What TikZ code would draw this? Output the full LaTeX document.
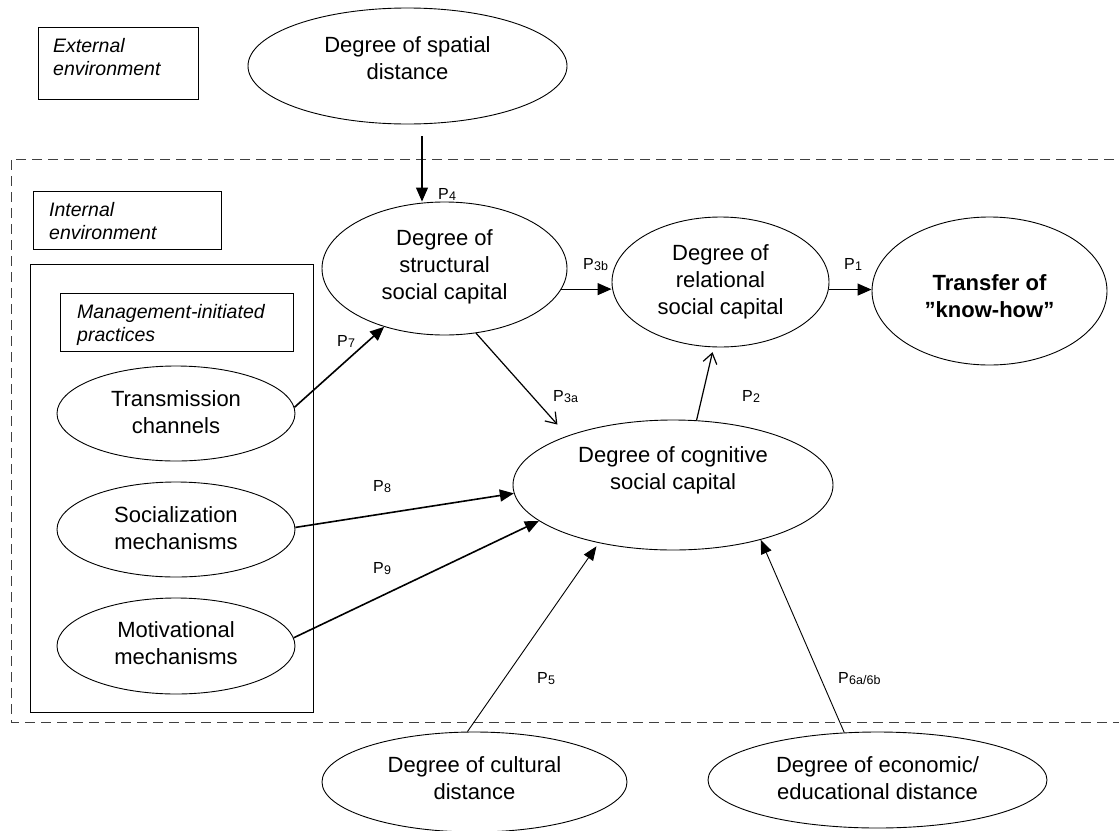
\documentclass[tikz,border=0pt]{standalone}
\usepackage{fontspec}
\setmainfont{Liberation Sans}
\usetikzlibrary{arrows.meta,shapes.geometric}
\newcommand\psub[1]{\kern0.3pt\raisebox{-1.8pt}{\fontsize{12.5}{12.5}\selectfont #1}}
\begin{document}
\begin{tikzpicture}[x=1pt,y=-1pt,
  ell/.style={draw, ellipse, inner sep=0pt, line width=0.9pt},
  etxt/.style={align=center, inner sep=0pt, font=\fontsize{22}{27}\selectfont},
  btxt/.style={etxt, font=\fontsize{22}{27}\selectfont\bfseries},
  box/.style={draw, rectangle, line width=1pt, anchor=north west, inner sep=0pt},
  itxt/.style={anchor=west, align=left, inner sep=0pt, font=\fontsize{19.5}{23}\selectfont\itshape},
  fa/.style={-{Triangle[length=14pt,width=12pt]}, line width=1.2pt},
  fathick/.style={-{Triangle[length=14pt,width=12pt]}, line width=1.6pt},
  fathin/.style={-{Triangle[length=14pt,width=11pt]}, line width=0.9pt},
  oa/.style={-{Straight Barb[length=10pt,width=14pt]}, line width=1.2pt},
  plab/.style={anchor=base west, inner sep=0pt, font=\fontsize{16}{16}\selectfont},
  bound/.style={dashed, dash pattern=on 10pt off 6pt, line width=1pt, black!75},
]
\useasboundingbox (0,0) rectangle (1119,830);

% environment boundary
\draw[bound] (1130,159) -- (11,159) -- (11,722) -- (1130,722);

% boxes
\node[box, minimum width=160pt, minimum height=72pt, label={[itxt, xshift=15pt, yshift=6pt]west:{External\\environment}}] (ext) at (38,27) {};
\node[box, minimum width=188pt, minimum height=58pt, label={[itxt, xshift=16pt, yshift=-1pt]west:{Internal\\environment}}] (int) at (33,191) {};
\node[box, minimum width=283pt, minimum height=448pt] (mgmt) at (30,264) {};
\node[box, minimum width=233pt, minimum height=58pt, label={[itxt, xshift=17pt, yshift=-2.5pt]west:{Management-initiated\\practices}}] (mip) at (60,293) {};

% ellipses
\node[ell, minimum width=319pt, minimum height=116pt, label={[etxt,yshift=7.5pt]center:{Degree of spatial\\distance}}] (spatial) at (407.5,66) {};
\node[ell, minimum width=245pt, minimum height=133pt, label={[etxt,yshift=1.5pt]center:{Degree of\\structural\\social capital}}] (struct) at (444.5,268.5) {};
\node[ell, minimum width=217pt, minimum height=130pt, label={[etxt]center:{Degree of\\relational\\social capital}}] (rel) at (720.5,282) {};
\node[ell, minimum width=235pt, minimum height=148pt, label={[btxt,yshift=-5.5pt]center:{Transfer of\\”know-how”}}] (trans) at (989.5,291) {};
\node[ell, minimum width=320pt, minimum height=130pt, label={[etxt,yshift=14.5pt]center:{Degree of cognitive\\social capital}}] (cog) at (673,485) {};
\node[ell, minimum width=238pt, minimum height=95pt, label={[etxt,yshift=1.5pt]center:{Transmission\\channels}}] (tm) at (176,413.5) {};
\node[ell, minimum width=238pt, minimum height=95pt, label={[etxt,yshift=1pt]center:{Socialization\\mechanisms}}] (soc) at (176,529.5) {};
\node[ell, minimum width=238pt, minimum height=96pt, label={[etxt,yshift=2.5pt]center:{Motivational\\mechanisms}}] (mot) at (176,646) {};
\node[ell, minimum width=305pt, minimum height=100pt, label={[etxt,yshift=3.5pt]center:{Degree of cultural\\distance}}] (cult) at (474.5,782) {};
\node[ell, minimum width=339pt, minimum height=96pt, label={[etxt,yshift=1.5pt]center:{Degree of economic/\\educational distance}}] (econ) at (877.5,780) {};

% connectors
\draw[fa] ([xshift=14.5pt,yshift=-12pt]spatial.south) -- ([xshift=-22.5pt]struct.north);
\draw[fa] (struct.-10) -- (struct.-10 -| rel.west);
\draw[fa] (rel.-4) -- (rel.-4 -| trans.west);
\draw[fathick] (tm.3) -- (struct.224.5);
\draw[oa, shorten >=15pt] (struct.-64.6) -- (cog.155.3);
\draw[oa, shorten >=5pt] (cog.70.3) -- (rel.264.7);
\draw[fathick] (soc.1) -- (cog.183.6);
\draw[fathick] (mot.4) -- (cog.195.1);
\draw[fathin, shorten >=4pt] (cult.98.5) -- (cog.218.1);
\draw[fathin] (econ.125.5) -- (cog.-32.9);

% labels
\node[plab] (l4) at (438,199) {P\psub{4}};
\node[plab] (l3b) at (583,269) {P\psub{3b}};
\node[plab] (l1) at (844,269) {P\psub{1}};
\node[plab] (l7) at (337,346) {P\psub{7}};
\node[plab] (l3a) at (553,401) {P\psub{3a}};
\node[plab] (l2) at (742,401) {P\psub{2}};
\node[plab] (l8) at (373,491) {P\psub{8}};
\node[plab] (l9) at (373,573) {P\psub{9}};
\node[plab] (l5) at (537,683) {P\psub{5}};
\node[plab] (l6) at (838,683) {P\psub{6a/6b}};
\end{tikzpicture}
\end{document}
